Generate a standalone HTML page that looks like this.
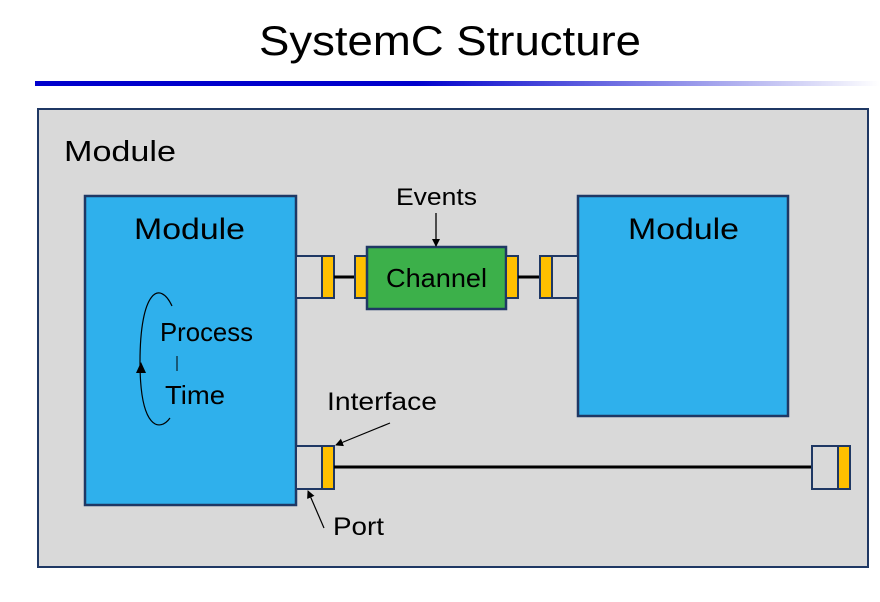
<!DOCTYPE html>
<html><head><meta charset="utf-8"><style>
html,body{margin:0;padding:0;background:#fff;width:880px;height:602px;overflow:hidden}
svg{display:block}
text{font-family:"Liberation Sans",sans-serif;fill:#000}
</style></head><body>
<svg width="880" height="602" viewBox="0 0 880 602">
<defs>
<linearGradient id="g" x1="0" x2="1" y1="0" y2="0">
<stop offset="0" stop-color="#0000cc"/><stop offset="0.45" stop-color="#0000cc"/><stop offset="1" stop-color="#0000cc" stop-opacity="0"/>
</linearGradient>
<marker id="a" markerWidth="8" markerHeight="8" refX="7" refY="4" orient="auto" markerUnits="userSpaceOnUse">
<path d="M0,0 L8,4 L0,8 Z" fill="#000"/></marker>
</defs>
<text x="450" y="55" font-size="42" text-anchor="middle" textLength="382" lengthAdjust="spacingAndGlyphs">SystemC Structure</text>
<rect x="35" y="81" width="845" height="5" fill="url(#g)"/>
<rect x="38" y="109" width="830" height="458" fill="#d9d9d9" stroke="#1f3864" stroke-width="2"/>
<text x="64" y="161" font-size="29" textLength="112" lengthAdjust="spacingAndGlyphs">Module</text>
<rect x="85" y="196" width="211" height="309" fill="#2fb0ec" stroke="#1f3864" stroke-width="2.5"/>
<text x="134" y="239" font-size="30" textLength="111" lengthAdjust="spacingAndGlyphs">Module</text>
<rect x="578" y="196" width="210" height="220" fill="#2fb0ec" stroke="#1f3864" stroke-width="2.5"/>
<text x="628" y="239" font-size="30" textLength="111" lengthAdjust="spacingAndGlyphs">Module</text>
<rect x="296" y="256" width="38" height="42" fill="#d9d9d9" stroke="#1f3864" stroke-width="2"/>
<rect x="322" y="256" width="12" height="42" fill="#ffc000" stroke="#1f3864" stroke-width="2"/>
<line x1="334" y1="277" x2="355" y2="277" stroke="#000" stroke-width="3"/>
<rect x="355" y="256" width="12" height="42" fill="#ffc000" stroke="#1f3864" stroke-width="2"/>
<rect x="367" y="247" width="139" height="62" fill="#3cb04a" stroke="#1f3864" stroke-width="2.5"/>
<text x="386" y="287" font-size="26" textLength="101" lengthAdjust="spacingAndGlyphs">Channel</text>
<rect x="506" y="256" width="12" height="42" fill="#ffc000" stroke="#1f3864" stroke-width="2"/>
<line x1="518" y1="277" x2="540" y2="277" stroke="#000" stroke-width="3"/>
<rect x="540" y="256" width="38" height="42" fill="#d9d9d9" stroke="#1f3864" stroke-width="2"/>
<rect x="540" y="256" width="12" height="42" fill="#ffc000" stroke="#1f3864" stroke-width="2"/>
<text x="396" y="205" font-size="24" textLength="81" lengthAdjust="spacingAndGlyphs">Events</text>
<line x1="436" y1="213" x2="436" y2="246" stroke="#000" stroke-width="1.3" marker-end="url(#a)"/>
<rect x="296" y="446" width="38" height="43" fill="#d9d9d9" stroke="#1f3864" stroke-width="2"/>
<rect x="322" y="446" width="12" height="43" fill="#ffc000" stroke="#1f3864" stroke-width="2"/>
<line x1="334" y1="467" x2="812" y2="467" stroke="#000" stroke-width="3"/>
<rect x="812" y="446" width="38" height="43" fill="#d9d9d9" stroke="#1f3864" stroke-width="2"/>
<rect x="838" y="446" width="12" height="43" fill="#ffc000" stroke="#1f3864" stroke-width="2"/>
<text x="327" y="410" font-size="25" textLength="110" lengthAdjust="spacingAndGlyphs">Interface</text>
<line x1="390" y1="423" x2="336" y2="445" stroke="#000" stroke-width="1.2" marker-end="url(#a)"/>
<text x="333" y="535" font-size="25" textLength="51" lengthAdjust="spacingAndGlyphs">Port</text>
<line x1="324" y1="528" x2="308" y2="491" stroke="#000" stroke-width="1.2" marker-end="url(#a)"/>
<text x="160" y="341" font-size="26" textLength="93" lengthAdjust="spacingAndGlyphs">Process</text>
<text x="165" y="404" font-size="26" textLength="60" lengthAdjust="spacingAndGlyphs">Time</text>
<line x1="177" y1="356" x2="177" y2="371" stroke="#000" stroke-width="1"/>
<path d="M172,306 C160,280 140,290 140,362 C140,430 160,432 170,418" fill="none" stroke="#000" stroke-width="1.2"/>
<path d="M136,373 L141,362 L146,373 Z" fill="#000"/>
</svg>
</body></html>
